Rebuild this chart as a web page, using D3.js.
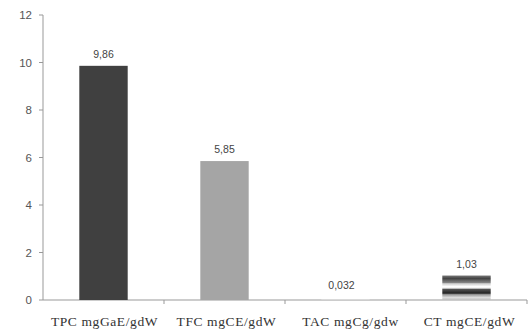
<!DOCTYPE html>
<html><head><meta charset="utf-8">
<script src="https://cdn.jsdelivr.net/npm/d3@7"></script>
<style>body{margin:0;background:#fff}</style>
</head><body>
<svg id="c" width="529" height="334"></svg>
<script>
const categories = ["TPC mgGaE/gdW","TFC mgCE/gdW","TAC mgCg/gdw","CT mgCE/gdW"];
const values = [9.86, 5.85, 0.032, 1.03];
const valueLabels = ["9,86","5,85","0,032","1,03"];
const yTicks = [0,2,4,6,8,10,12];

const svg = d3.select("#c");
const x = d3.scaleBand().domain(categories).range([43,527]).paddingInner(0.6).paddingOuter(0.3);
const xb = d3.scaleBand().domain(categories).range([43,527]);
const y = d3.scaleLinear().domain([0,12]).range([300,15]);

const defs = svg.append("defs");
const g = defs.append("linearGradient").attr("id","stripe").attr("x1",0).attr("y1",0).attr("x2",0).attr("y2",1);
[[0,"#777"],[0.12,"#444"],[0.3,"#888"],[0.33,"#ccc"],[0.45,"#fff"],[0.52,"#eee"],[0.55,"#555"],[0.72,"#222"],[0.78,"#999"],[0.9,"#ddd"],[1,"#bbb"]]
  .forEach(([o,c])=>g.append("stop").attr("offset",o).attr("stop-color",c));

// y axis
svg.append("line").attr("x1",43).attr("x2",43).attr("y1",y(12)).attr("y2",y(0)).attr("stroke","#999");
yTicks.forEach(t=>{
  svg.append("line").attr("x1",39).attr("x2",43).attr("y1",y(t)).attr("y2",y(t)).attr("stroke","#999");
  svg.append("text").attr("x",32).attr("y",y(t)+4).attr("text-anchor","end")
    .attr("font-family","Liberation Sans, Arial").attr("font-size",11.5).attr("fill","#555").text(t);
});
// x axis
svg.append("line").attr("x1",43).attr("x2",527).attr("y1",y(0)).attr("y2",y(0)).attr("stroke","#999");
categories.forEach((c,i)=>{
  const bx = xb(c)+xb.bandwidth();
  svg.append("line").attr("x1",bx).attr("x2",bx).attr("y1",y(0)).attr("y2",y(0)+4).attr("stroke","#999");
});

const fills = ["#404040","#a5a5a5","#ddd","url(#stripe)"];
svg.selectAll("rect.bar").data(values).join("rect").attr("class","bar")
  .attr("x",(d,i)=>x(categories[i])).attr("width",x.bandwidth())
  .attr("y",d=>y(d)).attr("height",d=>y(0)-y(d))
  .attr("fill",(d,i)=>fills[i]);

svg.selectAll("text.val").data(values).join("text").attr("class","val")
  .attr("x",(d,i)=>x(categories[i])+x.bandwidth()/2 + (i===2?-4:0))
  .attr("y",(d,i)=> i===2 ? y(d)-10 : y(d)-8)
  .attr("text-anchor","middle").attr("font-family","Liberation Sans, Arial").attr("font-size",10.5).attr("fill","#444")
  .text((d,i)=>valueLabels[i]);

svg.selectAll("text.cat").data(categories).join("text").attr("class","cat")
  .attr("x",(d,i)=>xb(d)+xb.bandwidth()/2 + [1,2,5,3][i]).attr("y",326).attr("text-anchor","middle")
  .attr("font-family","Liberation Serif, Times New Roman").attr("font-size",13.5).attr("letter-spacing",0.6).attr("fill","#333")
  .text(d=>d);
</script>
</body></html>
